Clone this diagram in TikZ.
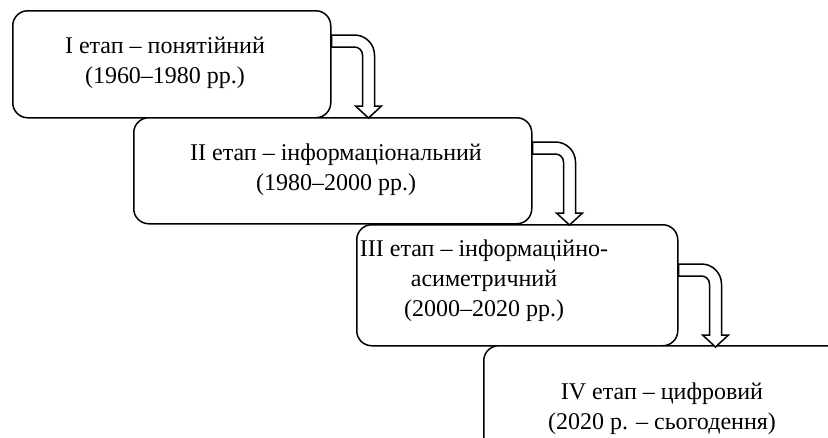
\documentclass[tikz,border=0pt]{standalone}
\usepackage{fontspec}
\setmainfont{Liberation Serif}
\usetikzlibrary{calc}
\tikzset{
  box/.style={draw, line width=1.5pt, rounded corners=15pt, fill=white, anchor=north west, inner sep=0pt},
  lbl/.style={align=center, font=\fontsize{24}{30}\selectfont, inner sep=0pt},
  uarrow/.pic={
    \draw[line width=1.5pt, fill=white, line join=miter]
      (0,0) -- (23,0) .. controls (34,0) and (43,9) .. (43,20) -- (43,71) -- (50,71) -- (37,83)
      -- (24,71) -- (31,71) -- (31,20) .. controls (31,15.6) and (27.4,12) .. (23,12) -- (0,12) -- cycle;
  }
}
\begin{document}
\begin{tikzpicture}[x=1pt,y=-1pt]
\useasboundingbox (0,0) rectangle (828,437);
\clip (0,0) rectangle (828,437);
\node[box, minimum width=318pt, minimum height=107pt] (b1) at (12,10) {};
\node[box, minimum width=398pt, minimum height=106pt] (b2) at (133,117) {};
\node[box, minimum width=321pt, minimum height=121pt] (b3) at (356,224) {};
\node[box, minimum width=360pt, minimum height=120pt] (b4) at (483,345) {};
\node[lbl] (t1) at (165,63) {I етап – понятійний\\(1960–1980 рр.)};
\node[lbl] (t2) at (336,170) {II етап – інформаціональний\\(1980–2000 рр.)};
\node[lbl] (t3) at (484,281) {III етап – інформаційно-\\асиметричний\\(2000–2020 рр.)};
\node[lbl] (t4) at (662,409) {IV етап – цифровий\\(2020 р. – сьогодення)};
\pic at ($(b1.north east)+(0,25)$) {uarrow};
\pic at ($(b2.north east)+(0,25)$) {uarrow};
\pic at ($(b3.north east)+(0,40)$) {uarrow};
\end{tikzpicture}
\end{document}
